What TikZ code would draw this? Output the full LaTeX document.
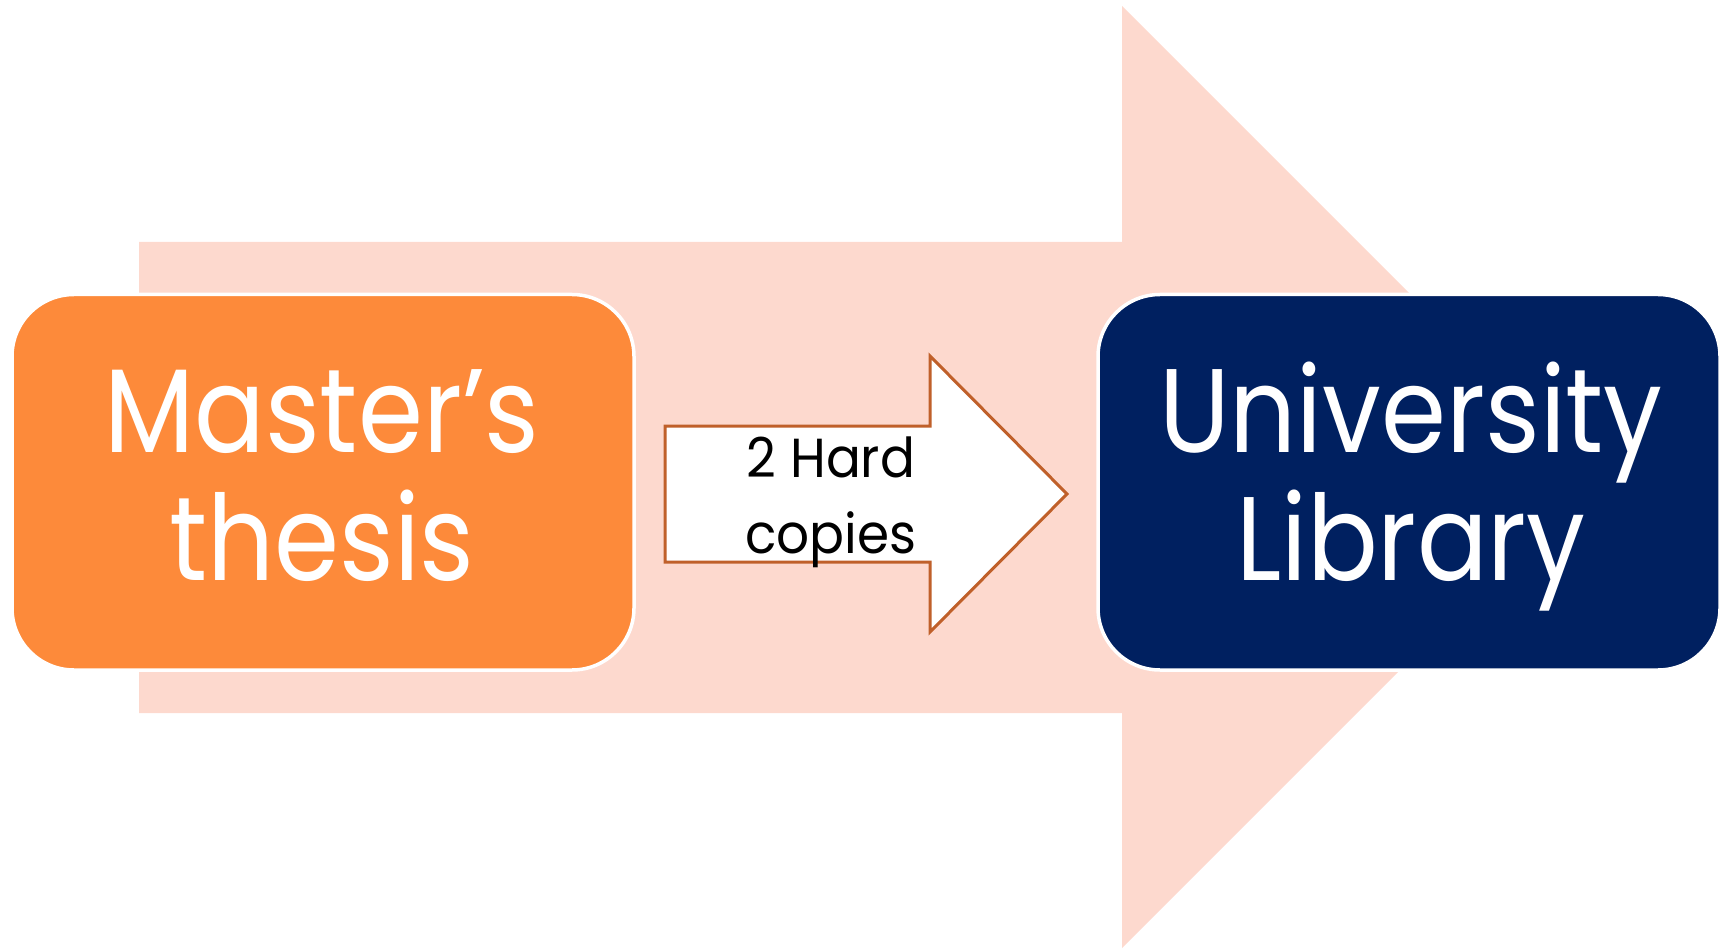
\documentclass[tikz,border=0pt]{standalone}
\usepackage{fontspec}
\newfontfamily\twfont[FakeStretch=0.88]{Poppins}
\newfontfamily\twsmallfont[FakeStretch=0.94]{Poppins}
\definecolor{peach}{HTML}{FDD9CE}
\definecolor{boxorange}{HTML}{FD8A3A}
\definecolor{navy}{HTML}{002060}
\definecolor{arrowedge}{HTML}{C0602A}
\tikzset{
  box/.style={rectangle, rounded corners=62pt, draw=white, line width=3.5pt,
    minimum width=622pt, minimum height=375.5pt, inner sep=0pt},
  bigtext/.style={text=white, inner sep=0pt, anchor=base,
    font=\twfont\fontsize{119}{128}\selectfont},
  smalltext/.style={text=black, inner sep=0pt, anchor=base,
    font=\twsmallfont\fontsize{55}{76}\selectfont},
  bigarrow/.style={fill=peach},
  smallarrow/.style={draw=arrowedge, fill=white, line width=3pt, line join=miter}
}
\begin{document}
\begin{tikzpicture}[x=1pt,y=-1pt]
\useasboundingbox (0,0) rectangle (1729,949);
% large background arrow
\path[bigarrow] (139,242) -- (1122,242) -- (1122,6) -- (1593,477)
  -- (1122,948) -- (1122,713) -- (139,713) -- cycle;
% boxes
\node[box, fill=boxorange] (master) at (323,482.25) {};
\node[box, fill=navy] (library) at (1409,482.25) {};
% small arrow between the boxes
\path[smallarrow] (665,426) -- (930,426) -- (930,356) -- (1067,494)
  -- (930,632) -- (930,562) -- (665,562) -- cycle;
% texts
\node[bigtext] (m1) at (322,452) {Master’s};
\node[bigtext] (m2) at (322,580) {thesis};
\node[bigtext] (u1) at (1411,452) {University};
\node[bigtext] (u2) at (1411,580) {Library};
\node[smalltext] (h1) at (831,477) {2 Hard};
\node[smalltext] (h2) at (831,553) {copies};
\end{tikzpicture}
\end{document}
